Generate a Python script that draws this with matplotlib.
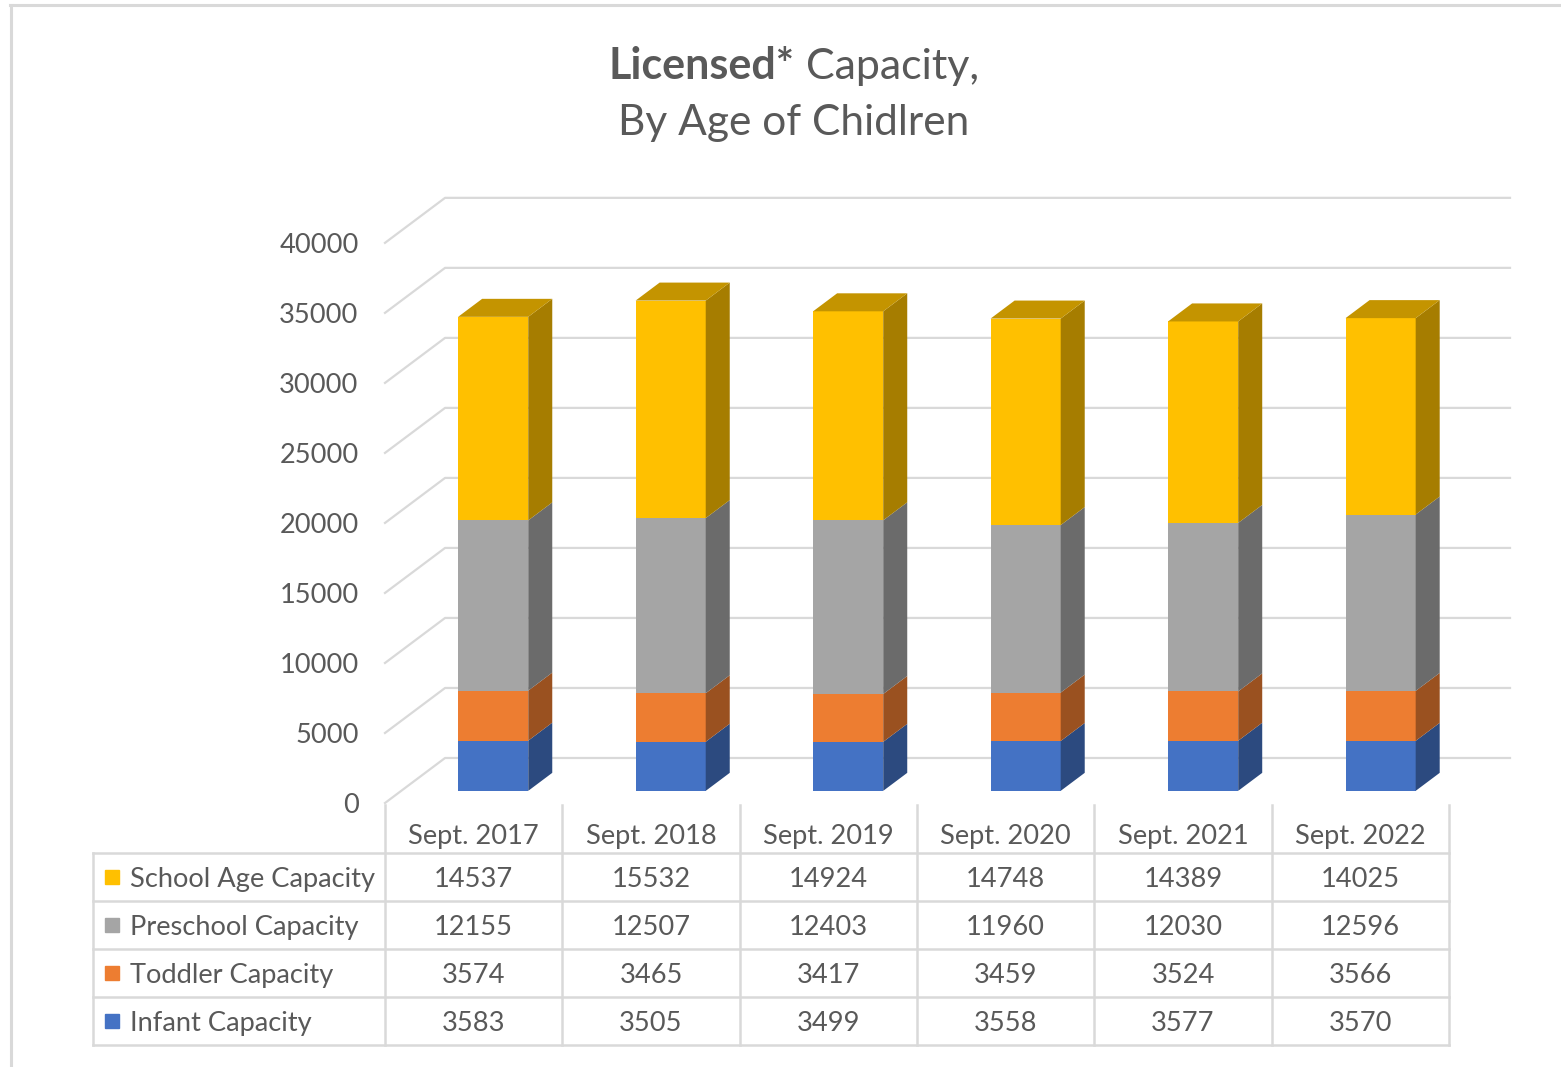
import matplotlib.pyplot as plt
from matplotlib.patches import Polygon, Rectangle
from matplotlib.lines import Line2D

# --- data ---
categories = ['Sept. 2017', 'Sept. 2018', 'Sept. 2019', 'Sept. 2020', 'Sept. 2021', 'Sept. 2022']
infant = [3583, 3505, 3499, 3558, 3577, 3570]
toddler = [3574, 3465, 3417, 3459, 3524, 3566]
preschool = [12155, 12507, 12403, 11960, 12030, 12596]
school_age = [14537, 15532, 14924, 14748, 14389, 14025]
y_ticks = list(range(0, 40001, 5000))

# stacking order bottom -> top
series = [
    ('Infant Capacity', infant, '#4472C4'),
    ('Toddler Capacity', toddler, '#ED7D31'),
    ('Preschool Capacity', preschool, '#A5A5A5'),
    ('School Age Capacity', school_age, '#FFC000'),
]

TEXT = '#595959'
GRID = '#d9d9d9'
FONT = 'Lato'
FS = 19.6
plt.rcParams['font.family'] = [FONT, 'DejaVu Sans']


def shade(hex_color, k):
    h = hex_color.lstrip('#')
    r, g, b = (int(h[i:i + 2], 16) / 255 for i in (0, 2, 4))
    return (r * k, g * k, b * k)


W, H = 1561, 1067
fig = plt.figure(figsize=(W / 100, H / 100), dpi=100)

# chart area border (cut off at right / bottom)
fig.add_artist(Line2D([10 / W, 1], [1 - 5 / H, 1 - 5 / H], color=GRID, lw=2.2))
fig.add_artist(Line2D([11 / W, 11 / W], [0, 1 - 5 / H], color=GRID, lw=2.2))

# --- plot area: oblique 3D projection in data units ---
ax = fig.add_axes([385 / W, 1 - 803 / H, 1125 / W, 606 / H])
ax.axis('off')
DX = 60 / 177.3          # depth offset in category units
DY = 45 / 70 * 5000      # depth offset in value units
n = len(categories)
ax.set_xlim(-0.5, n - 0.5 + DX)
ax.set_ylim(0, 40000 + DY + 60)

for v in y_ticks:
    ax.plot([-0.5, -0.5 + DX, n - 0.5 + DX], [v, v + DY, v + DY],
            color=GRID, lw=1.6, zorder=1, clip_on=False)
    ax.annotate(str(v), (-0.5, v), xytext=(-19, 0), textcoords='offset points',
                ha='right', va='center_baseline', fontsize=FS, color=TEXT)

f0, fd = 0.27, 0.40      # bar front depth, bar depth (fractions of floor depth)
bw = 0.395
for i in range(n):
    xl = i - 0.088
    bottom = 0
    for k, (name, vals, col) in enumerate(series):
        y0 = bottom + f0 * DY
        y1 = y0 + vals[i]
        ax.add_patch(Rectangle((xl, y0), bw, vals[i], facecolor=col,
                               edgecolor='none', zorder=3))
        ax.add_patch(Polygon([(xl + bw, y0), (xl + bw + fd * DX, y0 + fd * DY),
                              (xl + bw + fd * DX, y1 + fd * DY), (xl + bw, y1)],
                             closed=True, facecolor=shade(col, 0.65),
                             edgecolor='none', zorder=3))
        if k == len(series) - 1:
            ax.add_patch(Polygon([(xl, y1), (xl + fd * DX, y1 + fd * DY),
                                  (xl + bw + fd * DX, y1 + fd * DY), (xl + bw, y1)],
                                 closed=True, facecolor=shade(col, 0.77),
                                 edgecolor='none', zorder=3))
        bottom += vals[i]

# --- data table ---
tx0 = -0.5 - (385 - 93) / 177.3
tab = fig.add_axes([93 / W, 1 - 1045 / H, (1449 - 93) / W, 240 / H])
tab.axis('off')
tab.set_xlim(tx0, n - 0.5)
tab.set_ylim(0, 5)
for r in range(5):
    tab.plot([tx0, n - 0.5], [r, r], color=GRID, lw=1.8, clip_on=False)
tab.plot([tx0, tx0], [0, 4], color=GRID, lw=1.8, clip_on=False)
for c in range(n + 1):
    tab.plot([c - 0.5, c - 0.5], [0, 5], color=GRID, lw=1.8, clip_on=False)

for i, cat in enumerate(categories):
    tab.text(i, 4.4, cat, ha='center', va='center_baseline', fontsize=FS, color=TEXT)

for r, (name, vals, col) in enumerate(series):
    yc = r + 0.5
    tab.plot([tx0 + 19 / 177.3], [yc], marker='s', markersize=10.5,
             color=col, clip_on=False)
    tab.text(tx0 + 37 / 177.3, yc, name, ha='left', va='center_baseline',
             fontsize=FS, color=TEXT)
    for i, v in enumerate(vals):
        tab.text(i, yc, str(v), ha='center', va='center_baseline',
                 fontsize=FS, color=TEXT)

# --- title (mixed weight first line) ---
renderer = fig.canvas.get_renderer()
cx = 794
t_b = fig.text(0, 1 - 79 / H, 'Licensed*', weight='bold', fontsize=31,
               color=TEXT, va='baseline')
t_r = fig.text(0, 1 - 79 / H, 'Capacity,', fontsize=31, color=TEXT, va='baseline')
wb = t_b.get_window_extent(renderer).width
wr = t_r.get_window_extent(renderer).width
gap = 11
start = cx - (wb + gap + wr) / 2
t_b.set_x(start / W)
t_r.set_x((start + wb + gap) / W)
fig.text(cx / W, 1 - 135 / H, 'By Age of Chidlren', ha='center', va='baseline',
         fontsize=30.5, color=TEXT)

fig.savefig('out.png', dpi=100)
